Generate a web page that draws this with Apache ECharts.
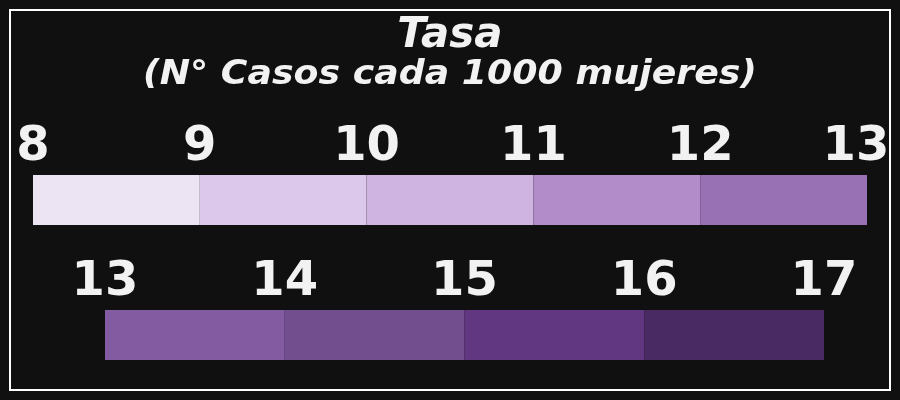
<!DOCTYPE html>
<html>
<head>
<meta charset="utf-8">
<script src="https://cdn.jsdelivr.net/npm/echarts@6/dist/echarts.min.js"></script>
<style>
  html, body { margin: 0; padding: 0; background: #101010; }
  #chart { width: 900px; height: 400px; }
</style>
</head>
<body>
<div id="chart"></div>
<script>
// breaks of the two colour scales (rate per 1000 women)
const topBreaks = [8, 9, 10, 11, 12, 13];
const bottomBreaks = [13, 14, 15, 16, 17];
const topColors = ['#ece4f2', '#dcc8ea', '#cfb3e0', '#b18cc8', '#9870b4'];
const bottomColors = ['#835ba0', '#734e8f', '#603780', '#4a2a63'];

const titleText = 'Tasa';
const subtitleText = '(N° Casos cada 1000 mujeres)';

const textColor = '#f2f2f2';
const fontFamily = '"DejaVu Sans", Verdana, sans-serif';

function segments(breaks, colors) {
  const out = [];
  for (let i = 0; i < breaks.length - 1; i++) {
    out.push({ value: [breaks[i], breaks[i + 1]], itemStyle: { color: colors[i] } });
  }
  return out;
}

function renderSegment(params, api) {
  const p0 = api.coord([api.value(0), 1]);
  const p1 = api.coord([api.value(1), 0]);
  return {
    type: 'rect',
    shape: { x: p0[0], y: p0[1], width: p1[0] - p0[0], height: p1[1] - p0[1] },
    style: { fill: api.visual('color') }
  };
}

function xAxisFor(gridIndex, breaks, shiftLast) {
  const last = breaks[breaks.length - 1];
  return {
    type: 'value',
    gridIndex: gridIndex,
    position: 'top',
    min: breaks[0],
    max: last,
    interval: 1,
    axisLine: { show: false },
    axisTick: { show: false },
    splitLine: { show: false },
    axisLabel: {
      margin: 3,
      color: textColor,
      fontSize: 48,
      fontWeight: 'bold',
      fontFamily: fontFamily,
      formatter: function (v) {
        return (shiftLast && v === last) ? '{last|' + v + '}' : String(v);
      },
      rich: {
        last: {
          color: textColor,
          fontSize: 48,
          fontWeight: 'bold',
          fontFamily: fontFamily,
          padding: [0, 22, 0, 0]
        }
      }
    }
  };
}

const chart = echarts.init(document.getElementById('chart'));
const option = {
  backgroundColor: '#101010',
  animation: false,
  title: {
    text: titleText,
    left: 'center',
    top: 10,
    textStyle: {
      color: textColor,
      fontSize: 42,
      fontWeight: 'bold',
      fontStyle: 'italic',
      fontFamily: fontFamily
    }
  },
  graphic: [
    {
      type: 'rect',
      shape: { x: 10, y: 10, width: 880, height: 380 },
      style: { fill: null, stroke: '#ffffff', lineWidth: 2 }
    },
    {
      type: 'text',
      x: 450,
      y: 75,
      scaleX: 1.1,
      style: {
        text: subtitleText,
        x: 0,
        y: 0,
        align: 'center',
        verticalAlign: 'middle',
        fill: textColor,
        fontSize: 33,
        fontWeight: 'bold',
        fontStyle: 'italic',
        fontFamily: fontFamily
      }
    }
  ],
  grid: [
    { left: 33, right: 33, top: 175, height: 50 },
    { left: 105, right: 76, top: 310, height: 50 }
  ],
  xAxis: [
    xAxisFor(0, topBreaks, true),
    xAxisFor(1, bottomBreaks, false)
  ],
  yAxis: [
    { type: 'value', gridIndex: 0, min: 0, max: 1, show: false },
    { type: 'value', gridIndex: 1, min: 0, max: 1, show: false }
  ],
  series: [
    {
      type: 'custom',
      xAxisIndex: 0,
      yAxisIndex: 0,
      renderItem: renderSegment,
      encode: { x: [0, 1] },
      data: segments(topBreaks, topColors)
    },
    {
      type: 'custom',
      xAxisIndex: 1,
      yAxisIndex: 1,
      renderItem: renderSegment,
      encode: { x: [0, 1] },
      data: segments(bottomBreaks, bottomColors)
    }
  ]
};
chart.setOption(option);
</script>
</body>
</html>
